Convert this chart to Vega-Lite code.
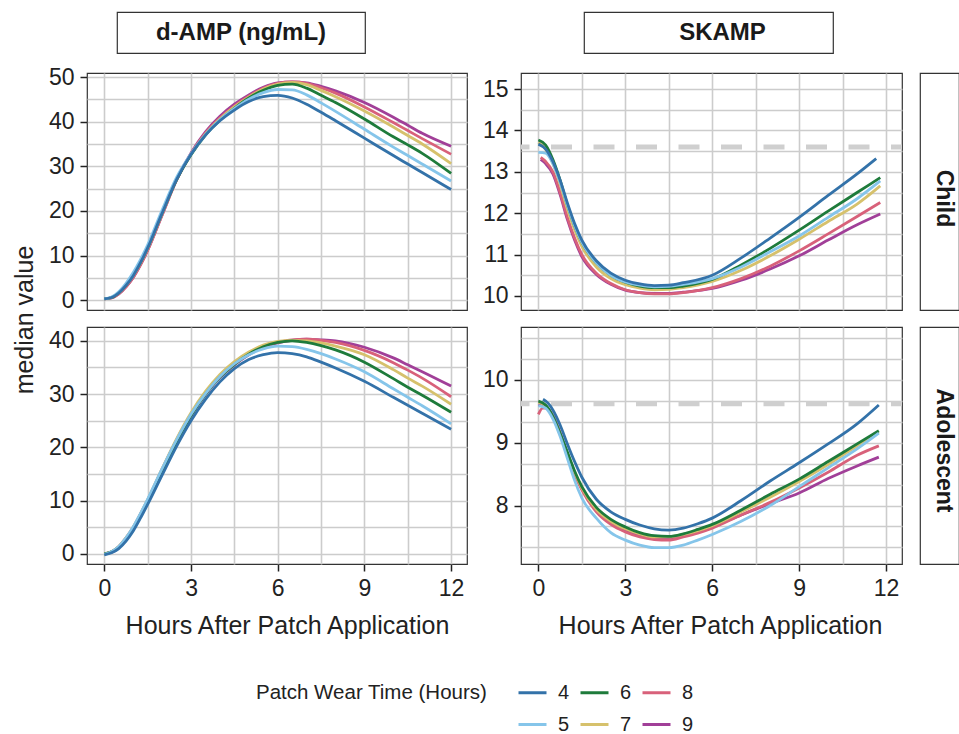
{
"$schema": "https://vega.github.io/schema/vega-lite/v6.json",
"padding": {"left": 12, "top": 11, "right": 0, "bottom": 0},
"background": "white",
"datasets": {
"dc": [
{"w":9,"h":0,"v":0.3},{"w":9,"h":0.25,"v":0.5},{"w":9,"h":0.5,"v":1.4},{"w":9,"h":0.75,"v":3},{"w":9,"h":1,"v":5.1},{"w":9,"h":1.25,"v":7.9},{"w":9,"h":1.5,"v":11.2},{"w":9,"h":2,"v":19.1},{"w":9,"h":2.5,"v":27},{"w":9,"h":3,"v":33},{"w":9,"h":3.5,"v":37.7},{"w":9,"h":4,"v":41.2},{"w":9,"h":4.5,"v":43.9},{"w":9,"h":5,"v":46},{"w":9,"h":5.5,"v":47.7},{"w":9,"h":6,"v":48.7},{"w":9,"h":6.5,"v":48.9},{"w":9,"h":7,"v":48.7},{"w":9,"h":7.5,"v":47.9},{"w":9,"h":8,"v":46.9},{"w":9,"h":9,"v":44.3},{"w":9,"h":10,"v":41},{"w":9,"h":10.5,"v":39.2},{"w":9,"h":11,"v":37.4},{"w":9,"h":12,"v":34.5},
{"w":8,"h":0,"v":0.3},{"w":8,"h":0.25,"v":0.5},{"w":8,"h":0.5,"v":1.4},{"w":8,"h":0.75,"v":3},{"w":8,"h":1,"v":5.1},{"w":8,"h":1.25,"v":7.9},{"w":8,"h":1.5,"v":11.2},{"w":8,"h":2,"v":19.1},{"w":8,"h":2.5,"v":26.9},{"w":8,"h":3,"v":32.8},{"w":8,"h":3.5,"v":37.4},{"w":8,"h":4,"v":40.8},{"w":8,"h":4.5,"v":43.5},{"w":8,"h":5,"v":45.7},{"w":8,"h":5.5,"v":47.5},{"w":8,"h":6,"v":48.6},{"w":8,"h":6.5,"v":48.9},{"w":8,"h":7,"v":48.6},{"w":8,"h":7.5,"v":47.6},{"w":8,"h":8,"v":46.4},{"w":8,"h":9,"v":43.3},{"w":8,"h":10,"v":39.8},{"w":8,"h":10.5,"v":38},{"w":8,"h":11,"v":36.2},{"w":8,"h":12,"v":32.7},
{"w":7,"h":0,"v":0.3},{"w":7,"h":0.25,"v":0.6},{"w":7,"h":0.5,"v":1.6},{"w":7,"h":0.75,"v":3.3},{"w":7,"h":1,"v":5.5},{"w":7,"h":1.25,"v":8.3},{"w":7,"h":1.5,"v":11.6},{"w":7,"h":2,"v":19.4},{"w":7,"h":2.5,"v":27},{"w":7,"h":3,"v":32.7},{"w":7,"h":3.5,"v":37.2},{"w":7,"h":4,"v":40.6},{"w":7,"h":4.5,"v":43.3},{"w":7,"h":5,"v":45.5},{"w":7,"h":5.5,"v":47.3},{"w":7,"h":6,"v":48.4},{"w":7,"h":6.5,"v":48.8},{"w":7,"h":7,"v":48.3},{"w":7,"h":7.5,"v":47},{"w":7,"h":8,"v":45.6},{"w":7,"h":9,"v":42.4},{"w":7,"h":10,"v":38.8},{"w":7,"h":10.5,"v":36.9},{"w":7,"h":11,"v":35},{"w":7,"h":12,"v":30.6},
{"w":6,"h":0,"v":0.3},{"w":6,"h":0.25,"v":0.6},{"w":6,"h":0.5,"v":1.7},{"w":6,"h":0.75,"v":3.4},{"w":6,"h":1,"v":5.7},{"w":6,"h":1.25,"v":8.5},{"w":6,"h":1.5,"v":11.8},{"w":6,"h":2,"v":19.6},{"w":6,"h":2.5,"v":27},{"w":6,"h":3,"v":32.6},{"w":6,"h":3.5,"v":37},{"w":6,"h":4,"v":40.3},{"w":6,"h":4.5,"v":43},{"w":6,"h":5,"v":45.3},{"w":6,"h":5.5,"v":47},{"w":6,"h":6,"v":48.1},{"w":6,"h":6.5,"v":48.4},{"w":6,"h":7,"v":47.5},{"w":6,"h":7.5,"v":45.9},{"w":6,"h":8,"v":44.3},{"w":6,"h":9,"v":40.6},{"w":6,"h":10,"v":36.6},{"w":6,"h":10.5,"v":34.8},{"w":6,"h":11,"v":32.9},{"w":6,"h":12,"v":28.4},
{"w":5,"h":0,"v":0.3},{"w":5,"h":0.25,"v":0.7},{"w":5,"h":0.5,"v":1.9},{"w":5,"h":0.75,"v":3.8},{"w":5,"h":1,"v":6.2},{"w":5,"h":1.25,"v":9.1},{"w":5,"h":1.5,"v":12.4},{"w":5,"h":2,"v":20.2},{"w":5,"h":2.5,"v":27.5},{"w":5,"h":3,"v":32.8},{"w":5,"h":3.5,"v":37.1},{"w":5,"h":4,"v":40.4},{"w":5,"h":4.5,"v":42.9},{"w":5,"h":5,"v":45},{"w":5,"h":5.5,"v":46.5},{"w":5,"h":6,"v":47.2},{"w":5,"h":6.5,"v":47.1},{"w":5,"h":7,"v":46},{"w":5,"h":7.5,"v":44.2},{"w":5,"h":8,"v":42.3},{"w":5,"h":9,"v":38.3},{"w":5,"h":10,"v":34.3},{"w":5,"h":10.5,"v":32.4},{"w":5,"h":11,"v":30.5},{"w":5,"h":12,"v":26.7},
{"w":4,"h":0,"v":0.3},{"w":4,"h":0.25,"v":0.6},{"w":4,"h":0.5,"v":1.6},{"w":4,"h":0.75,"v":3.3},{"w":4,"h":1,"v":5.5},{"w":4,"h":1.25,"v":8.4},{"w":4,"h":1.5,"v":11.7},{"w":4,"h":2,"v":19.5},{"w":4,"h":2.5,"v":27},{"w":4,"h":3,"v":32.7},{"w":4,"h":3.5,"v":37},{"w":4,"h":4,"v":40.2},{"w":4,"h":4.5,"v":42.6},{"w":4,"h":5,"v":44.5},{"w":4,"h":5.5,"v":45.6},{"w":4,"h":6,"v":45.9},{"w":4,"h":6.5,"v":45.3},{"w":4,"h":7,"v":43.9},{"w":4,"h":7.5,"v":42.1},{"w":4,"h":8,"v":40.2},{"w":4,"h":9,"v":36.3},{"w":4,"h":10,"v":32.4},{"w":4,"h":10.5,"v":30.5},{"w":4,"h":11,"v":28.6},{"w":4,"h":12,"v":24.8}
],
"da": [
{"w":9,"h":0,"v":0},{"w":9,"h":0.25,"v":0.3},{"w":9,"h":0.5,"v":1.2},{"w":9,"h":0.75,"v":2.7},{"w":9,"h":1,"v":4.7},{"w":9,"h":1.25,"v":7.1},{"w":9,"h":1.5,"v":9.8},{"w":9,"h":2,"v":15.5},{"w":9,"h":2.5,"v":21},{"w":9,"h":3,"v":25.9},{"w":9,"h":3.5,"v":29.9},{"w":9,"h":4,"v":33.1},{"w":9,"h":4.5,"v":35.5},{"w":9,"h":5,"v":37.4},{"w":9,"h":5.5,"v":38.8},{"w":9,"h":6,"v":39.6},{"w":9,"h":6.5,"v":40.1},{"w":9,"h":7,"v":40.3},{"w":9,"h":7.5,"v":40.2},{"w":9,"h":8,"v":40},{"w":9,"h":9,"v":38.8},{"w":9,"h":10,"v":36.8},{"w":9,"h":10.5,"v":35.5},{"w":9,"h":11,"v":34.2},{"w":9,"h":12,"v":31.5},
{"w":8,"h":0,"v":0},{"w":8,"h":0.25,"v":0.4},{"w":8,"h":0.5,"v":1.4},{"w":8,"h":0.75,"v":3},{"w":8,"h":1,"v":5},{"w":8,"h":1.25,"v":7.5},{"w":8,"h":1.5,"v":10.1},{"w":8,"h":2,"v":15.9},{"w":8,"h":2.5,"v":21.4},{"w":8,"h":3,"v":26.2},{"w":8,"h":3.5,"v":30.2},{"w":8,"h":4,"v":33.3},{"w":8,"h":4.5,"v":35.6},{"w":8,"h":5,"v":37.5},{"w":8,"h":5.5,"v":38.9},{"w":8,"h":6,"v":39.7},{"w":8,"h":6.5,"v":40.2},{"w":8,"h":7,"v":40.3},{"w":8,"h":7.5,"v":40.1},{"w":8,"h":8,"v":39.7},{"w":8,"h":9,"v":38.2},{"w":8,"h":10,"v":35.9},{"w":8,"h":10.5,"v":34.5},{"w":8,"h":11,"v":33},{"w":8,"h":12,"v":29.5},
{"w":7,"h":0,"v":0},{"w":7,"h":0.25,"v":0.4},{"w":7,"h":0.5,"v":1.4},{"w":7,"h":0.75,"v":3},{"w":7,"h":1,"v":5},{"w":7,"h":1.25,"v":7.5},{"w":7,"h":1.5,"v":10.2},{"w":7,"h":2,"v":16},{"w":7,"h":2.5,"v":21.6},{"w":7,"h":3,"v":26.5},{"w":7,"h":3.5,"v":30.5},{"w":7,"h":4,"v":33.7},{"w":7,"h":4.5,"v":36.1},{"w":7,"h":5,"v":37.9},{"w":7,"h":5.5,"v":39.2},{"w":7,"h":6,"v":39.9},{"w":7,"h":6.5,"v":40.1},{"w":7,"h":7,"v":40},{"w":7,"h":7.5,"v":39.6},{"w":7,"h":8,"v":39},{"w":7,"h":9,"v":37.4},{"w":7,"h":10,"v":34.6},{"w":7,"h":10.5,"v":33},{"w":7,"h":11,"v":31.5},{"w":7,"h":12,"v":28.1},
{"w":6,"h":0,"v":0},{"w":6,"h":0.25,"v":0.4},{"w":6,"h":0.5,"v":1.3},{"w":6,"h":0.75,"v":2.8},{"w":6,"h":1,"v":4.8},{"w":6,"h":1.25,"v":7.2},{"w":6,"h":1.5,"v":9.9},{"w":6,"h":2,"v":15.6},{"w":6,"h":2.5,"v":21.1},{"w":6,"h":3,"v":26},{"w":6,"h":3.5,"v":30},{"w":6,"h":4,"v":33.2},{"w":6,"h":4.5,"v":35.6},{"w":6,"h":5,"v":37.5},{"w":6,"h":5.5,"v":38.9},{"w":6,"h":6,"v":39.7},{"w":6,"h":6.5,"v":40},{"w":6,"h":7,"v":39.7},{"w":6,"h":7.5,"v":39.1},{"w":6,"h":8,"v":38.3},{"w":6,"h":9,"v":36},{"w":6,"h":10,"v":32.9},{"w":6,"h":10.5,"v":31.3},{"w":6,"h":11,"v":29.8},{"w":6,"h":12,"v":26.6},
{"w":5,"h":0,"v":-0.1},{"w":5,"h":0.25,"v":0.4},{"w":5,"h":0.5,"v":1.4},{"w":5,"h":0.75,"v":3},{"w":5,"h":1,"v":5.1},{"w":5,"h":1.25,"v":7.6},{"w":5,"h":1.5,"v":10.3},{"w":5,"h":2,"v":16},{"w":5,"h":2.5,"v":21.4},{"w":5,"h":3,"v":26.2},{"w":5,"h":3.5,"v":30.1},{"w":5,"h":4,"v":33.3},{"w":5,"h":4.5,"v":35.7},{"w":5,"h":5,"v":37.4},{"w":5,"h":5.5,"v":38.5},{"w":5,"h":6,"v":39},{"w":5,"h":6.5,"v":38.9},{"w":5,"h":7,"v":38.4},{"w":5,"h":7.5,"v":37.6},{"w":5,"h":8,"v":36.6},{"w":5,"h":9,"v":34.2},{"w":5,"h":10,"v":31},{"w":5,"h":10.5,"v":29.4},{"w":5,"h":11,"v":27.8},{"w":5,"h":12,"v":24.4},
{"w":4,"h":0,"v":-0.2},{"w":4,"h":0.25,"v":0.2},{"w":4,"h":0.5,"v":1},{"w":4,"h":0.75,"v":2.4},{"w":4,"h":1,"v":4.3},{"w":4,"h":1.25,"v":6.7},{"w":4,"h":1.5,"v":9.3},{"w":4,"h":2,"v":14.8},{"w":4,"h":2.5,"v":20.2},{"w":4,"h":3,"v":25},{"w":4,"h":3.5,"v":29},{"w":4,"h":4,"v":32.3},{"w":4,"h":4.5,"v":34.8},{"w":4,"h":5,"v":36.5},{"w":4,"h":5.5,"v":37.4},{"w":4,"h":6,"v":37.8},{"w":4,"h":6.5,"v":37.6},{"w":4,"h":7,"v":37},{"w":4,"h":7.5,"v":36},{"w":4,"h":8,"v":34.9},{"w":4,"h":9,"v":32.4},{"w":4,"h":10,"v":29.4},{"w":4,"h":10.5,"v":27.9},{"w":4,"h":11,"v":26.4},{"w":4,"h":12,"v":23.4}
],
"sc": [
{"w":9,"h":0.08,"v":13.3},{"w":9,"h":0.25,"v":13.2},{"w":9,"h":0.5,"v":12.95},{"w":9,"h":0.75,"v":12.45},{"w":9,"h":1,"v":11.85},{"w":9,"h":1.25,"v":11.35},{"w":9,"h":1.5,"v":10.95},{"w":9,"h":2,"v":10.52},{"w":9,"h":2.5,"v":10.28},{"w":9,"h":3,"v":10.14},{"w":9,"h":3.5,"v":10.08},{"w":9,"h":4,"v":10.06},{"w":9,"h":4.5,"v":10.06},{"w":9,"h":5,"v":10.09},{"w":9,"h":6,"v":10.18},{"w":9,"h":7,"v":10.38},{"w":9,"h":8,"v":10.65},{"w":9,"h":9,"v":10.97},{"w":9,"h":10,"v":11.35},{"w":9,"h":11,"v":11.72},{"w":9,"h":11.8,"v":11.98},
{"w":8,"h":0.08,"v":13.35},{"w":8,"h":0.25,"v":13.25},{"w":8,"h":0.5,"v":13},{"w":8,"h":0.75,"v":12.5},{"w":8,"h":1,"v":11.9},{"w":8,"h":1.25,"v":11.4},{"w":8,"h":1.5,"v":11},{"w":8,"h":2,"v":10.55},{"w":8,"h":2.5,"v":10.3},{"w":8,"h":3,"v":10.15},{"w":8,"h":3.5,"v":10.08},{"w":8,"h":4,"v":10.05},{"w":8,"h":4.5,"v":10.05},{"w":8,"h":5,"v":10.08},{"w":8,"h":6,"v":10.2},{"w":8,"h":7,"v":10.42},{"w":8,"h":8,"v":10.72},{"w":8,"h":9,"v":11.09},{"w":8,"h":10,"v":11.5},{"w":8,"h":11,"v":11.92},{"w":8,"h":11.8,"v":12.26},
{"w":7,"h":0,"v":13.71},{"w":7,"h":0.25,"v":13.55},{"w":7,"h":0.5,"v":13.2},{"w":7,"h":0.75,"v":12.7},{"w":7,"h":1,"v":12.1},{"w":7,"h":1.25,"v":11.6},{"w":7,"h":1.5,"v":11.2},{"w":7,"h":2,"v":10.7},{"w":7,"h":2.5,"v":10.42},{"w":7,"h":3,"v":10.27},{"w":7,"h":3.5,"v":10.19},{"w":7,"h":4,"v":10.15},{"w":7,"h":4.5,"v":10.16},{"w":7,"h":5,"v":10.2},{"w":7,"h":6,"v":10.35},{"w":7,"h":7,"v":10.62},{"w":7,"h":8,"v":10.97},{"w":7,"h":9,"v":11.37},{"w":7,"h":10,"v":11.8},{"w":7,"h":11,"v":12.22},{"w":7,"h":11.8,"v":12.66},
{"w":6,"h":0,"v":13.77},{"w":6,"h":0.25,"v":13.65},{"w":6,"h":0.5,"v":13.3},{"w":6,"h":0.75,"v":12.8},{"w":6,"h":1,"v":12.2},{"w":6,"h":1.25,"v":11.7},{"w":6,"h":1.5,"v":11.3},{"w":6,"h":2,"v":10.8},{"w":6,"h":2.5,"v":10.5},{"w":6,"h":3,"v":10.33},{"w":6,"h":3.5,"v":10.24},{"w":6,"h":4,"v":10.2},{"w":6,"h":4.5,"v":10.2},{"w":6,"h":5,"v":10.24},{"w":6,"h":6,"v":10.4},{"w":6,"h":7,"v":10.75},{"w":6,"h":8,"v":11.15},{"w":6,"h":9,"v":11.59},{"w":6,"h":10,"v":12.05},{"w":6,"h":11,"v":12.5},{"w":6,"h":11.8,"v":12.86},
{"w":5,"h":0,"v":13.47},{"w":5,"h":0.25,"v":13.45},{"w":5,"h":0.5,"v":13.2},{"w":5,"h":0.75,"v":12.75},{"w":5,"h":1,"v":12.2},{"w":5,"h":1.25,"v":11.7},{"w":5,"h":1.5,"v":11.3},{"w":5,"h":2,"v":10.8},{"w":5,"h":2.5,"v":10.5},{"w":5,"h":3,"v":10.34},{"w":5,"h":3.5,"v":10.26},{"w":5,"h":4,"v":10.22},{"w":5,"h":4.5,"v":10.23},{"w":5,"h":5,"v":10.28},{"w":5,"h":6,"v":10.42},{"w":5,"h":7,"v":10.7},{"w":5,"h":8,"v":11.07},{"w":5,"h":9,"v":11.45},{"w":5,"h":10,"v":11.9},{"w":5,"h":11,"v":12.35},{"w":5,"h":11.8,"v":12.78},
{"w":4,"h":0,"v":13.67},{"w":4,"h":0.25,"v":13.55},{"w":4,"h":0.5,"v":13.25},{"w":4,"h":0.75,"v":12.8},{"w":4,"h":1,"v":12.25},{"w":4,"h":1.25,"v":11.75},{"w":4,"h":1.5,"v":11.35},{"w":4,"h":2,"v":10.85},{"w":4,"h":2.5,"v":10.55},{"w":4,"h":3,"v":10.38},{"w":4,"h":3.5,"v":10.29},{"w":4,"h":4,"v":10.25},{"w":4,"h":4.5,"v":10.26},{"w":4,"h":5,"v":10.32},{"w":4,"h":6,"v":10.5},{"w":4,"h":7,"v":10.92},{"w":4,"h":8,"v":11.4},{"w":4,"h":9,"v":11.9},{"w":4,"h":10,"v":12.43},{"w":4,"h":11,"v":12.95},{"w":4,"h":11.66,"v":13.32}
],
"sa": [
{"w":9,"h":0,"v":9.6},{"w":9,"h":0.25,"v":9.57},{"w":9,"h":0.5,"v":9.42},{"w":9,"h":0.75,"v":9.15},{"w":9,"h":1,"v":8.82},{"w":9,"h":1.25,"v":8.52},{"w":9,"h":1.5,"v":8.27},{"w":9,"h":2,"v":7.92},{"w":9,"h":2.5,"v":7.72},{"w":9,"h":3,"v":7.6},{"w":9,"h":3.5,"v":7.52},{"w":9,"h":4,"v":7.48},{"w":9,"h":4.5,"v":7.47},{"w":9,"h":5,"v":7.52},{"w":9,"h":5.5,"v":7.58},{"w":9,"h":6,"v":7.66},{"w":9,"h":7,"v":7.85},{"w":9,"h":8,"v":8.03},{"w":9,"h":9,"v":8.2},{"w":9,"h":10,"v":8.43},{"w":9,"h":11,"v":8.63},{"w":9,"h":11.75,"v":8.77},
{"w":8,"h":0,"v":9.45},{"w":8,"h":0.15,"v":9.55},{"w":8,"h":0.3,"v":9.55},{"w":8,"h":0.5,"v":9.42},{"w":8,"h":0.75,"v":9.15},{"w":8,"h":1,"v":8.8},{"w":8,"h":1.25,"v":8.5},{"w":8,"h":1.5,"v":8.25},{"w":8,"h":2,"v":7.9},{"w":8,"h":2.5,"v":7.7},{"w":8,"h":3,"v":7.58},{"w":8,"h":3.5,"v":7.5},{"w":8,"h":4,"v":7.46},{"w":8,"h":4.5,"v":7.45},{"w":8,"h":5,"v":7.5},{"w":8,"h":5.5,"v":7.56},{"w":8,"h":6,"v":7.64},{"w":8,"h":7,"v":7.85},{"w":8,"h":8,"v":8.05},{"w":8,"h":9,"v":8.28},{"w":8,"h":10,"v":8.53},{"w":8,"h":11,"v":8.8},{"w":8,"h":11.75,"v":8.95},
{"w":7,"h":0,"v":9.64},{"w":7,"h":0.25,"v":9.59},{"w":7,"h":0.5,"v":9.41},{"w":7,"h":0.75,"v":9.13},{"w":7,"h":1,"v":8.83},{"w":7,"h":1.25,"v":8.53},{"w":7,"h":1.5,"v":8.28},{"w":7,"h":2,"v":7.94},{"w":7,"h":2.5,"v":7.75},{"w":7,"h":3,"v":7.63},{"w":7,"h":3.5,"v":7.55},{"w":7,"h":4,"v":7.5},{"w":7,"h":4.5,"v":7.5},{"w":7,"h":5,"v":7.54},{"w":7,"h":5.5,"v":7.6},{"w":7,"h":6,"v":7.68},{"w":7,"h":7,"v":7.9},{"w":7,"h":8,"v":8.13},{"w":7,"h":9,"v":8.38},{"w":7,"h":10,"v":8.65},{"w":7,"h":11,"v":8.95},{"w":7,"h":11.75,"v":9.17},
{"w":6,"h":0,"v":9.66},{"w":6,"h":0.25,"v":9.6},{"w":6,"h":0.5,"v":9.42},{"w":6,"h":0.75,"v":9.15},{"w":6,"h":1,"v":8.85},{"w":6,"h":1.25,"v":8.55},{"w":6,"h":1.5,"v":8.3},{"w":6,"h":2,"v":7.97},{"w":6,"h":2.5,"v":7.78},{"w":6,"h":3,"v":7.66},{"w":6,"h":3.5,"v":7.57},{"w":6,"h":4,"v":7.52},{"w":6,"h":4.5,"v":7.51},{"w":6,"h":5,"v":7.55},{"w":6,"h":5.5,"v":7.62},{"w":6,"h":6,"v":7.7},{"w":6,"h":7,"v":7.93},{"w":6,"h":8,"v":8.18},{"w":6,"h":9,"v":8.42},{"w":6,"h":10,"v":8.7},{"w":6,"h":11,"v":8.98},{"w":6,"h":11.75,"v":9.19},
{"w":5,"h":0,"v":9.59},{"w":5,"h":0.25,"v":9.55},{"w":5,"h":0.5,"v":9.38},{"w":5,"h":0.75,"v":9.1},{"w":5,"h":1,"v":8.75},{"w":5,"h":1.25,"v":8.4},{"w":5,"h":1.5,"v":8.12},{"w":5,"h":2,"v":7.8},{"w":5,"h":2.5,"v":7.57},{"w":5,"h":3,"v":7.45},{"w":5,"h":3.5,"v":7.37},{"w":5,"h":4,"v":7.33},{"w":5,"h":4.5,"v":7.33},{"w":5,"h":5,"v":7.37},{"w":5,"h":5.5,"v":7.45},{"w":5,"h":6,"v":7.54},{"w":5,"h":7,"v":7.75},{"w":5,"h":8,"v":8},{"w":5,"h":9,"v":8.3},{"w":5,"h":10,"v":8.6},{"w":5,"h":11,"v":8.9},{"w":5,"h":11.75,"v":9.15},
{"w":4,"h":0.16,"v":9.69},{"w":4,"h":0.35,"v":9.62},{"w":4,"h":0.5,"v":9.52},{"w":4,"h":0.75,"v":9.28},{"w":4,"h":1,"v":8.98},{"w":4,"h":1.25,"v":8.7},{"w":4,"h":1.5,"v":8.45},{"w":4,"h":2,"v":8.1},{"w":4,"h":2.5,"v":7.9},{"w":4,"h":3,"v":7.78},{"w":4,"h":3.5,"v":7.69},{"w":4,"h":4,"v":7.63},{"w":4,"h":4.5,"v":7.61},{"w":4,"h":5,"v":7.64},{"w":4,"h":5.5,"v":7.71},{"w":4,"h":6,"v":7.8},{"w":4,"h":7,"v":8.08},{"w":4,"h":8,"v":8.39},{"w":4,"h":9,"v":8.68},{"w":4,"h":10,"v":8.98},{"w":4,"h":11,"v":9.3},{"w":4,"h":11.75,"v":9.6}
]
},
"vconcat": [
{
"hconcat": [
{"width": 29, "height": 41, "data": {"values": []}, "mark": "point", "view": {"stroke": null}},
{"width": 248, "height": 41, "data": {"values": [{"t": "d-AMP (ng/mL)"}]}, "mark": {"type": "text", "fontSize": 24, "fontWeight": "bold", "color": "#1a1a1a", "align": "center", "baseline": "middle"}, "encoding": {"text": {"field": "t"}}, "view": {"stroke": "#333", "strokeWidth": 1.2}},
{"width": 217, "height": 41, "data": {"values": []}, "mark": "point", "view": {"stroke": null}},
{"width": 249, "height": 41, "data": {"values": [{"t": "SKAMP"}]}, "mark": {"type": "text", "fontSize": 24, "fontWeight": "bold", "color": "#1a1a1a", "align": "center", "baseline": "middle", "dx": 14}, "encoding": {"text": {"field": "t"}}, "view": {"stroke": "#333", "strokeWidth": 1.2}}
],
"spacing": 0
},
{
"title": {"text": "median value", "orient": "left", "anchor": "middle", "fontSize": 25, "fontWeight": "normal", "color": "#222", "offset": 10, "dx": 32},
"spacing": 13,
"vconcat": [
{
"spacing": 13,
"hconcat": [
{"width": 380, "height": 237, "data": {"name": "dc"},
 "mark": {"type": "line", "strokeWidth": 2.8, "interpolate": "monotone"},
 "encoding": {
  "x": {"field": "h", "type": "quantitative", "scale": {"domain": [-0.6, 12.55], "nice": false, "zero": false}, "axis": {"values": [0,1.5,3,4.5,6,7.5,9,10.5,12], "tickCount": 40, "labels": false, "ticks": false, "title": null, "domain": false}},
  "y": {"field": "v", "type": "quantitative", "scale": {"domain": [-2.2, 50.9], "nice": false, "zero": false}, "axis": {"values": [0,5,10,15,20,25,30,35,40,45,50], "tickCount": 40, "title": null, "labelExpr": "datum.value % 10 === 0 ? format(datum.value, 'd') : ''", "tickOpacity": {"condition": {"test": "datum.value % 10 !== 0", "value": 0}, "value": 1}}},
  "color": {"field": "w", "type": "nominal", "title": "Patch Wear Time (Hours)", "scale": {"domain": [4,6,8,5,7,9], "range": ["#3372a9","#1e7b3b","#d8617a","#85c5ea","#d6c16c","#a13f98"]}}
 }
},
{"width": 381, "height": 237,
 "layer": [
  {"data": {"values": [{"b": 13.6}]}, "mark": {"type": "rule", "color": "#cfcfcf", "strokeWidth": 5, "strokeDash": [21, 21.5], "strokeDashOffset": 10}, "encoding": {"y": {"field": "b", "type": "quantitative"}}},
  {"data": {"name": "sc"},
   "mark": {"type": "line", "strokeWidth": 2.8, "interpolate": "monotone"},
   "encoding": {
    "x": {"field": "h", "type": "quantitative", "scale": {"domain": [-0.6, 12.55], "nice": false, "zero": false}, "axis": {"values": [0,1.5,3,4.5,6,7.5,9,10.5,12], "tickCount": 40, "labels": false, "ticks": false, "title": null, "domain": false}},
    "y": {"field": "v", "type": "quantitative", "scale": {"domain": [9.66, 15.39], "nice": false, "zero": false}, "axis": {"values": [10,10.5,11,11.5,12,12.5,13,13.5,14,14.5,15], "tickCount": 40, "title": null, "labelExpr": "datum.value % 1 === 0 ? format(datum.value, 'd') : ''", "tickOpacity": {"condition": {"test": "datum.value % 1 !== 0", "value": 0}, "value": 1}}},
    "color": {"field": "w", "type": "nominal", "title": "Patch Wear Time (Hours)", "scale": {"domain": [4,6,8,5,7,9], "range": ["#3372a9","#1e7b3b","#d8617a","#85c5ea","#d6c16c","#a13f98"]}}
   }
  }
 ]
},
{"width": 39, "height": 237, "data": {"values": [{"t": "Child"}]}, "mark": {"type": "text", "angle": 90, "fontSize": 23, "fontWeight": "bold", "color": "#1a1a1a", "align": "center", "baseline": "middle", "dx": 7, "dy": -4}, "encoding": {"text": {"field": "t"}}, "view": {"stroke": "#333", "strokeWidth": 1.2}}
]
},
{
"spacing": 13,
"hconcat": [
{"width": 380, "height": 237, "data": {"name": "da"},
 "mark": {"type": "line", "strokeWidth": 2.8, "interpolate": "monotone"},
 "encoding": {
  "x": {"field": "h", "type": "quantitative", "scale": {"domain": [-0.6, 12.55], "nice": false, "zero": false}, "axis": {"values": [0,1.5,3,4.5,6,7.5,9,10.5,12], "tickCount": 40, "title": "Hours After Patch Application", "titleX": 200, "labelExpr": "datum.value % 3 === 0 ? format(datum.value, 'd') : ''", "tickOpacity": {"condition": {"test": "datum.value % 3 !== 0", "value": 0}, "value": 1}}},
  "y": {"field": "v", "type": "quantitative", "scale": {"domain": [-1.9, 42.6], "nice": false, "zero": false}, "axis": {"values": [0,5,10,15,20,25,30,35,40], "tickCount": 40, "title": null, "labelExpr": "datum.value % 10 === 0 ? format(datum.value, 'd') : ''", "tickOpacity": {"condition": {"test": "datum.value % 10 !== 0", "value": 0}, "value": 1}}},
  "color": {"field": "w", "type": "nominal", "title": "Patch Wear Time (Hours)", "scale": {"domain": [4,6,8,5,7,9], "range": ["#3372a9","#1e7b3b","#d8617a","#85c5ea","#d6c16c","#a13f98"]}}
 }
},
{"width": 381, "height": 237,
 "layer": [
  {"data": {"values": [{"b": 9.62}]}, "mark": {"type": "rule", "color": "#cfcfcf", "strokeWidth": 5, "strokeDash": [21, 21.5], "strokeDashOffset": 10}, "encoding": {"y": {"field": "b", "type": "quantitative"}}},
  {"data": {"name": "sa"},
   "mark": {"type": "line", "strokeWidth": 2.8, "interpolate": "monotone"},
   "encoding": {
    "x": {"field": "h", "type": "quantitative", "scale": {"domain": [-0.6, 12.55], "nice": false, "zero": false}, "axis": {"values": [0,1.5,3,4.5,6,7.5,9,10.5,12], "tickCount": 40, "title": "Hours After Patch Application", "titleX": 199, "labelExpr": "datum.value % 3 === 0 ? format(datum.value, 'd') : ''", "tickOpacity": {"condition": {"test": "datum.value % 3 !== 0", "value": 0}, "value": 1}}},
    "y": {"field": "v", "type": "quantitative", "scale": {"domain": [7.07, 10.84], "nice": false, "zero": false}, "axis": {"values": [7.3333,7.6667,8,8.3333,8.6667,9,9.3333,9.6667,10,10.3333,10.6667], "tickCount": 40, "title": null, "labelExpr": "abs(datum.value - round(datum.value)) < 0.01 ? format(datum.value, 'd') : ''", "tickOpacity": {"condition": {"test": "abs(datum.value - round(datum.value)) > 0.01", "value": 0}, "value": 1}}},
    "color": {"field": "w", "type": "nominal", "title": "Patch Wear Time (Hours)", "scale": {"domain": [4,6,8,5,7,9], "range": ["#3372a9","#1e7b3b","#d8617a","#85c5ea","#d6c16c","#a13f98"]}}
   }
  }
 ]
},
{"width": 39, "height": 237, "data": {"values": [{"t": "Adolescent"}]}, "mark": {"type": "text", "angle": 90, "fontSize": 23, "fontWeight": "bold", "color": "#1a1a1a", "align": "center", "baseline": "middle", "dx": 5, "dy": -4}, "encoding": {"text": {"field": "t"}}, "view": {"stroke": "#333", "strokeWidth": 1.2}}
]
}
]
}
],
"spacing": 11,
"config": {
 "font": "Liberation Sans",
 "view": {"stroke": "#333", "strokeWidth": 1.2},
 "axis": {"labelFontSize": 23, "labelColor": "#222", "labelPadding": 6, "labelFlush": false, "labelOverlap": false, "titleFontSize": 25, "titleFontWeight": "normal", "titleColor": "#222", "titlePadding": 13, "tickColor": "#222", "tickSize": 7, "tickWidth": 1.5, "domain": false, "grid": true, "gridColor": "#cccccc", "gridWidth": 1.6},
 "legend": {"orient": "none", "legendX": 169, "legendY": 665, "direction": "horizontal", "columns": 3, "symbolType": "stroke", "symbolSize": 784, "symbolStrokeWidth": 3, "labelFontSize": 20, "labelColor": "#222", "labelOffset": 10, "titleFontSize": 20.5, "titleFontWeight": "normal", "titleColor": "#222", "titleOrient": "left", "titleAnchor": "start", "titleBaseline": "line-top", "titleLineHeight": 32, "titlePadding": 29, "titleLimit": 400, "columnPadding": 4, "rowPadding": 6}
}
}
